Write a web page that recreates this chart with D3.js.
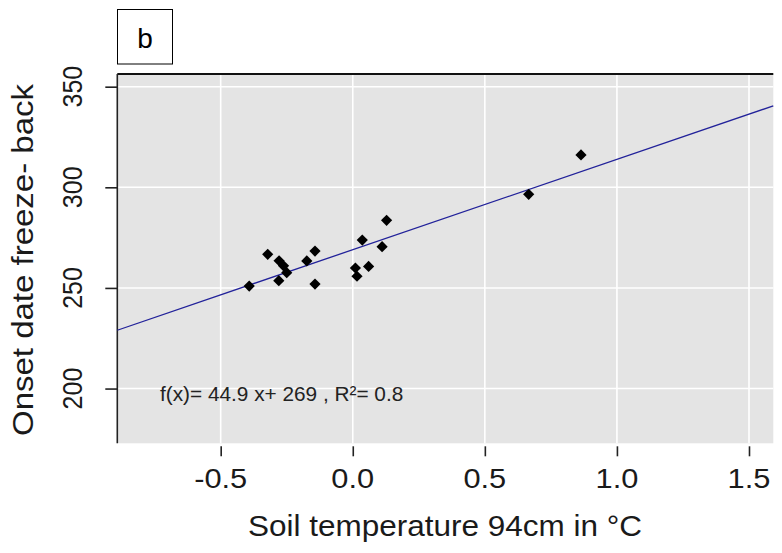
<!DOCTYPE html>
<html>
<head>
<meta charset="utf-8">
<script src="https://cdn.jsdelivr.net/npm/d3@7"></script>
<style>
  html, body { margin: 0; padding: 0; background: #ffffff; }
  svg { display: block; font-family: "Liberation Sans", Arial, sans-serif; }
</style>
</head>
<body>
<svg id="chart" width="782" height="553"></svg>
<script>
// ---- data ----
const soilTemp = [-0.392, -0.322, -0.279, -0.262, -0.250, -0.280, -0.174, -0.143, -0.143,
                  0.010, 0.016, 0.036, 0.060, 0.111, 0.128, 0.666, 0.864];
const onsetDate = [250.9, 266.7, 263.5, 261.0, 257.6, 253.6, 263.4, 268.3, 251.9,
                   259.9, 255.8, 273.8, 260.7, 270.5, 283.6, 296.5, 316.1];
const xTicks = [-0.5, 0.0, 0.5, 1.0, 1.5];
const yTicks = [200, 250, 300, 350];
const fitSlope = [44.9];
const fitIntercept = [269];
const equationText = ["f(x)= 44.9 x+ 269 , R²= 0.8"];
const panelLabel = ["b"];
const xTitle = ["Soil temperature 94cm in °C"];
const yTitle = ["Onset date freeze- back"];

// ---- layout ----
const pLeft = 117.3, pRight = 773.3, pTop = 74, pBottom = 443.3;
const x = d3.scaleLinear().domain([-0.8914, 1.592]).range([pLeft, pRight]);
const y = d3.scaleLinear().domain([172.8, 356.3]).range([pBottom, pTop]);

const svg = d3.select("#chart");

// panel background
svg.append("rect")
  .attr("x", pLeft).attr("y", pTop)
  .attr("width", pRight - pLeft).attr("height", pBottom - pTop)
  .attr("fill", "#e4e4e4");

// grid
const grid = svg.append("g").attr("stroke", "#ffffff").attr("stroke-width", 1.6);
grid.selectAll("line.gx").data(xTicks).join("line").attr("class", "gx")
  .attr("x1", d => x(d)).attr("x2", d => x(d))
  .attr("y1", pTop).attr("y2", pBottom);
grid.selectAll("line.gy").data(yTicks).join("line").attr("class", "gy")
  .attr("x1", pLeft).attr("x2", pRight)
  .attr("y1", d => y(d)).attr("y2", d => y(d));

// top border and left axis line
svg.append("line").attr("x1", pLeft).attr("x2", pRight).attr("y1", pTop).attr("y2", pTop)
  .attr("stroke", "#111").attr("stroke-width", 2);
svg.append("line").attr("x1", pLeft).attr("x2", pLeft).attr("y1", pTop).attr("y2", pBottom)
  .attr("stroke", "#222").attr("stroke-width", 1.6);

// y axis ticks
const yAxis = d3.axisLeft(y).tickValues(yTicks).tickSize(12).tickFormat("");
const gy = svg.append("g").attr("transform", `translate(${pLeft},0)`).call(yAxis);
gy.select(".domain").remove();
gy.selectAll(".tick line").attr("stroke", "#222").attr("stroke-width", 1.6);

// y tick labels (rotated)
svg.append("g").selectAll("text").data(yTicks).join("text")
  .attr("transform", d => `translate(82,${y(d)}) scale(1.1,1) rotate(-90)`)
  .attr("text-anchor", "middle")
  .attr("font-size", 25)
  .attr("fill", "#1a1a1a")
  .text(d => d);

// x axis ticks
const xAxis = d3.axisBottom(x).tickValues(xTicks).tickSize(10).tickFormat("");
const gx = svg.append("g").attr("transform", `translate(0,${pBottom + 3})`).call(xAxis);
gx.select(".domain").remove();
gx.selectAll(".tick line").attr("stroke", "#222").attr("stroke-width", 1.6);

// x tick labels
svg.append("g").selectAll("text").data(xTicks).join("text")
  .attr("transform", d => `translate(${x(d)},488) scale(1.1,1)`)
  .attr("text-anchor", "middle")
  .attr("font-size", 28)
  .attr("fill", "#1a1a1a")
  .text(d => d3.format(".1f")(d).replace("−", "-"));

// regression line
const xd = x.domain();
svg.append("line")
  .attr("x1", x(xd[0])).attr("y1", y(fitSlope[0] * xd[0] + fitIntercept[0]))
  .attr("x2", x(xd[1])).attr("y2", y(fitSlope[0] * xd[1] + fitIntercept[0]))
  .attr("stroke", "#22229a").attr("stroke-width", 1.3);

// points
const sym = d3.symbol().type(d3.symbolDiamond2).size(80);
svg.append("g").selectAll("path").data(soilTemp.map((v, i) => [v, onsetDate[i]])).join("path")
  .attr("transform", d => `translate(${x(d[0])},${y(d[1])})`)
  .attr("d", sym)
  .attr("fill", "#000");

// equation
svg.append("text")
  .attr("transform", "translate(160,401) scale(1.04,1.05)")
  .attr("font-size", 20)
  .attr("fill", "#222")
  .text(equationText[0]);

// panel label box
svg.append("rect")
  .attr("x", 117.5).attr("y", 9.5).attr("width", 55).attr("height", 54.5)
  .attr("fill", "#fff").attr("stroke", "#000").attr("stroke-width", 1);
svg.append("text")
  .attr("x", 145).attr("y", 48)
  .attr("text-anchor", "middle")
  .attr("font-size", 28)
  .attr("fill", "#000")
  .text(panelLabel[0]);

// axis titles
svg.append("text")
  .attr("transform", "translate(445,536) scale(1.05,1)")
  .attr("text-anchor", "middle")
  .attr("font-size", 30)
  .attr("fill", "#1a1a1a")
  .text(xTitle[0]);

svg.append("text")
  .attr("transform", "translate(33,260) scale(1.0,1.1) rotate(-90)")
  .attr("text-anchor", "middle")
  .attr("font-size", 30)
  .attr("fill", "#1a1a1a")
  .text(yTitle[0]);
</script>
</body>
</html>
